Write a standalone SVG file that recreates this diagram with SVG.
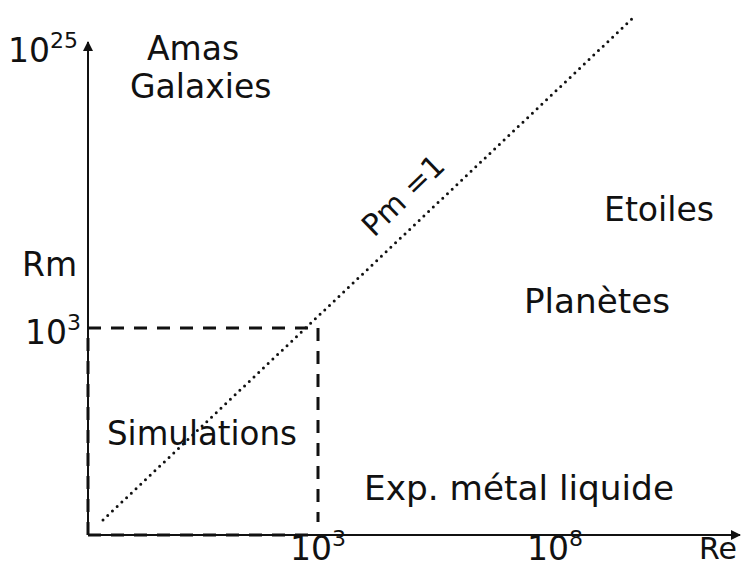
<svg xmlns="http://www.w3.org/2000/svg" width="742" height="567" viewBox="0 0 742 567">
<style>
text{font-family:"Comic Sans MS","DejaVu Sans","Noto Sans",sans-serif;font-size:33px;fill:#111}
.sup{font-size:22px}
.ax{stroke:#111;stroke-width:2;fill:none}
.dash{stroke:#111;stroke-width:3;stroke-dasharray:13 10;fill:none}
.dot{stroke:#111;stroke-width:3;stroke-dasharray:0 6.5;stroke-linecap:round;fill:none}
</style>
<defs>
<marker id="ah" markerWidth="10" markerHeight="10" refX="9" refY="5" orient="auto" markerUnits="userSpaceOnUse">
<path d="M0,0 L10,5 L0,10 Z" fill="#111"/>
</marker>
</defs>
<rect width="742" height="567" fill="#fff"/>
<g id="connectors">
<line class="ax" x1="88" y1="535" x2="88" y2="42" marker-end="url(#ah)"/>
<line class="ax" x1="88" y1="535" x2="740" y2="535" marker-end="url(#ah)"/>
<path class="dash" d="M88,535 V328 H318 V522"/>
<path class="dash" d="M88,535 H318"/>
<line class="dot" x1="103" y1="520" x2="635" y2="16"/>
</g>
<g id="labels">
<text x="8" y="62">10<tspan class="sup" dy="-14">25</tspan></text>
<text x="147" y="60">Amas</text>
<text x="130" y="98">Galaxies</text>
<text x="22" y="276">Rm</text>
<text x="25" y="344">10<tspan class="sup" dy="-14">3</tspan></text>
<text x="107" y="445" textLength="190" lengthAdjust="spacingAndGlyphs">Simulations</text>
<text x="364" y="500" textLength="310" lengthAdjust="spacingAndGlyphs">Exp. métal liquide</text>
<text x="290" y="560">10<tspan class="sup" dy="-14">3</tspan></text>
<text x="527" y="560">10<tspan class="sup" dy="-14">8</tspan></text>
<text x="699" y="559" style="font-size:30px">Re</text>
<text x="604" y="221" textLength="110" lengthAdjust="spacingAndGlyphs">Etoiles</text>
<text x="524" y="313" textLength="146" lengthAdjust="spacingAndGlyphs">Planètes</text>
<text transform="translate(374,238) rotate(-44)" style="font-size:30px">Pm =1</text>
</g>
</svg>
